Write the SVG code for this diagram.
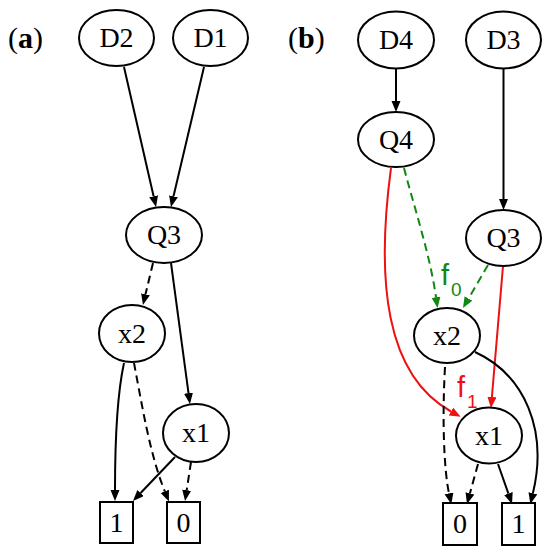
<svg xmlns="http://www.w3.org/2000/svg" width="550" height="558" viewBox="0 0 550 558">
<defs>
<style>
.n ellipse, .n rect { fill: #fff; stroke: #000; stroke-width: 2; }
.n text { font-family: "Liberation Serif", "Times New Roman", serif; font-size: 28px; text-anchor: middle; fill: #000; }
.e path { fill: none; stroke-width: 2; }
.k { stroke: #000; }
.g { stroke: #118811; }
.r { stroke: #ee1111; }
.d { stroke-dasharray: 8 5; }
.lab { font-family: "Liberation Serif", "Times New Roman", serif; font-size: 30px; fill: #000; }
.fl { font-family: "Liberation Sans", Arial, sans-serif; }
</style>
<marker id="ak" markerUnits="userSpaceOnUse" markerWidth="12" markerHeight="10" refX="0" refY="4.5" orient="auto"><path d="M0,0 L11,4.5 L0,9 z" fill="#000"/></marker>
<marker id="ag" markerUnits="userSpaceOnUse" markerWidth="12" markerHeight="10" refX="0" refY="4.5" orient="auto"><path d="M0,0 L11,4.5 L0,9 z" fill="#118811"/></marker>
<marker id="ar" markerUnits="userSpaceOnUse" markerWidth="12" markerHeight="10" refX="0" refY="4.5" orient="auto"><path d="M0,0 L11,4.5 L0,9 z" fill="#ee1111"/></marker>
</defs>
<rect width="550" height="558" fill="#fff"/>

<text class="lab" x="8" y="48">(<tspan font-weight="bold">a</tspan>)</text>
<text class="lab" x="288" y="48">(<tspan font-weight="bold">b</tspan>)</text>

<g id="connectors" class="e">
<!-- panel a -->
<path class="k" d="M124,67 L153.6,196.3" marker-end="url(#ak)"/>
<path class="k" d="M204,67 L173.5,196.3" marker-end="url(#ak)"/>
<path class="k d" d="M153,263 L145.5,294.3" marker-end="url(#ak)"/>
<path class="k" d="M171,263 L188.5,393.1" marker-end="url(#ak)"/>
<path class="k" d="M124,363 C117,395 115,450 115,490" marker-end="url(#ak)"/>
<path class="k d" d="M134,363 C142,405 150,455 164.8,491.3" marker-end="url(#ak)"/>
<path class="k" d="M175,457 L140.6,493" marker-end="url(#ak)"/>
<path class="k d" d="M191,462 L186.7,490.1" marker-end="url(#ak)"/>
<!-- panel b -->
<path class="k" d="M396,69 L396,101" marker-end="url(#ak)"/>
<path class="k" d="M503.5,69 L503.5,199" marker-end="url(#ak)"/>
<path class="g d" d="M404,168 C415,210 430,255 436,297.2" marker-end="url(#ag)"/>
<path class="g d" d="M488,265 L468.5,298.5" marker-end="url(#ag)"/>
<path class="r" d="M391,168 C376,280 385,375 451,411.5" marker-end="url(#ar)"/>
<path class="r" d="M503,266 L491.9,397" marker-end="url(#ar)"/>
<path class="k d" d="M445,367 C442,420 444,470 449,493.4" marker-end="url(#ak)"/>
<path class="k" d="M475,352 C525,375 548,430 532.9,493.3" marker-end="url(#ak)"/>
<path class="k d" d="M478,464 L469.9,493.4" marker-end="url(#ak)"/>
<path class="k" d="M498,464 L508.4,493.6" marker-end="url(#ak)"/>
<text class="fl" x="441" y="285" font-size="29" fill="#118811">f</text>
<text class="fl" x="451" y="296" font-size="19" fill="#118811">0</text>
<text class="fl" x="457" y="397" font-size="29" fill="#ee1111">f</text>
<text class="fl" x="467" y="408" font-size="19" fill="#ee1111">1</text>
</g>

<g id="a-D2" class="n"><ellipse cx="116.5" cy="38" rx="37.5" ry="28"/><text x="116.5" y="47">D2</text></g>
<g id="a-D1" class="n"><ellipse cx="210.5" cy="38" rx="37.5" ry="28"/><text x="210.5" y="47">D1</text></g>
<g id="a-Q3" class="n"><ellipse cx="164" cy="235" rx="38" ry="28"/><text x="164" y="244">Q3</text></g>
<g id="a-x2" class="n"><ellipse cx="132" cy="333.5" rx="33" ry="28.5"/><text x="132" y="342.5">x2</text></g>
<g id="a-x1" class="n"><ellipse cx="196" cy="433" rx="33" ry="29"/><text x="196" y="442">x1</text></g>
<g id="a-one" class="n"><rect x="100" y="502" width="33" height="41"/><text x="116.5" y="532">1</text></g>
<g id="a-zero" class="n"><rect x="167" y="502" width="33" height="41"/><text x="183.5" y="532">0</text></g>

<g id="b-D4" class="n"><ellipse cx="396" cy="40" rx="38" ry="28.5"/><text x="396" y="49">D4</text></g>
<g id="b-D3" class="n"><ellipse cx="503.5" cy="40" rx="37.5" ry="28.5"/><text x="503.5" y="49">D3</text></g>
<g id="b-Q4" class="n"><ellipse cx="396" cy="139.5" rx="38" ry="27.5"/><text x="396" y="148.5">Q4</text></g>
<g id="b-Q3" class="n"><ellipse cx="503.5" cy="238" rx="37.5" ry="28"/><text x="503.5" y="247">Q3</text></g>
<g id="b-x2" class="n"><ellipse cx="447" cy="335.5" rx="33" ry="27.5"/><text x="447" y="344.5">x2</text></g>
<g id="b-x1" class="n"><ellipse cx="489" cy="435.5" rx="33" ry="28"/><text x="489" y="444.5">x1</text></g>
<g id="b-zero" class="n"><rect x="443" y="503" width="34" height="42"/><text x="460" y="533">0</text></g>
<g id="b-one" class="n"><rect x="502" y="503" width="33" height="42"/><text x="518.5" y="533">1</text></g>
</svg>
